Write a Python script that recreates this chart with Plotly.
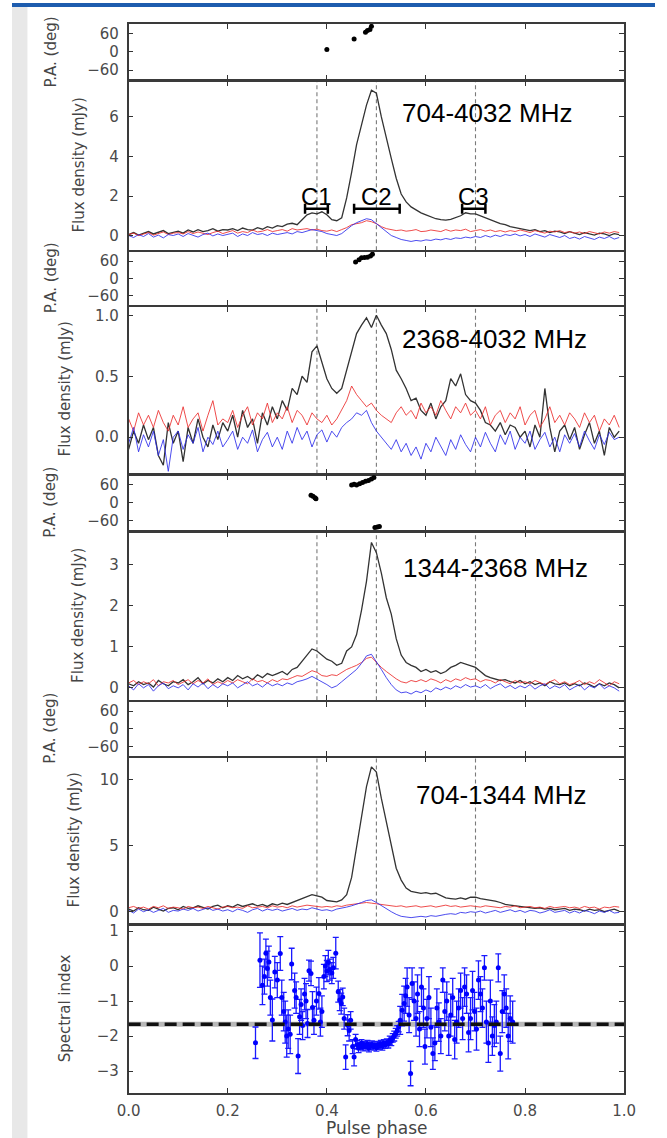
import plotly.graph_objects as go

# ---------------- data ----------------
PHASE = [round(i * 0.01, 2) for i in range(100)]

# 704-4032 MHz
I1 = [0.05, 0.15, 0.02, 0.12, 0.20, 0.08, 0.15, 0.25, 0.10, 0.18,
      0.22, 0.12, 0.28, 0.18, 0.30, 0.20, 0.25, 0.35, 0.22, 0.30,
      0.28, 0.35, 0.25, 0.38, 0.30, 0.27, 0.40, 0.32, 0.45, 0.38,
      0.50, 0.45, 0.58, 0.62, 0.55, 0.80, 1.05, 1.15, 1.10, 1.20,
      1.05, 0.80, 0.75, 0.90, 1.90, 3.20, 4.60, 5.60, 6.60, 7.35,
      7.20, 6.00, 4.90, 3.90, 2.90, 2.10, 1.70, 1.45, 1.30, 1.15,
      1.05, 0.95, 0.85, 0.80, 0.78, 0.82, 0.90, 1.00, 1.15, 1.10,
      1.10, 1.00, 0.90, 0.80, 0.70, 0.60, 0.55, 0.45, 0.40, 0.35,
      0.30, 0.25, 0.30, 0.20, 0.25, 0.15, 0.22, 0.18, 0.10, 0.20,
      0.12, 0.05, 0.15, 0.10, 0.02, 0.12, 0.08, 0.00, 0.10, 0.05]
L1 = [0.05, 0.12, 0.00, 0.08, 0.15, 0.02, 0.10, 0.18, 0.05, 0.12,
      0.15, 0.08, 0.20, 0.10, 0.18, 0.12, 0.05, 0.15, 0.22, 0.10,
      0.18, 0.25, 0.12, 0.20, 0.15, 0.28, 0.18, 0.22, 0.30, 0.20,
      0.25, 0.30, 0.22, 0.35, 0.28, 0.30, 0.35, 0.28, 0.32, 0.25,
      0.22, 0.28, 0.20, 0.30, 0.40, 0.55, 0.60, 0.65, 0.75, 0.70,
      0.60, 0.45, 0.35, 0.30, 0.25, 0.28, 0.22, 0.25, 0.30, 0.20,
      0.22, 0.28, 0.25, 0.20, 0.30, 0.22, 0.28, 0.25, 0.32, 0.20,
      0.25, 0.30, 0.22, 0.28, 0.20, 0.25, 0.18, 0.25, 0.20, 0.28,
      0.22, 0.15, 0.25, 0.20, 0.12, 0.22, 0.18, 0.25, 0.15, 0.20,
      0.12, 0.18, 0.10, 0.20, 0.15, 0.08, 0.18, 0.12, 0.20, 0.15]
V1 = [0.00, -0.10, 0.05, -0.05, 0.10, -0.08, 0.02, -0.12, 0.05, 0.00,
      0.08, -0.05, 0.10, 0.00, -0.08, 0.05, 0.12, -0.02, 0.08, 0.00,
      0.05, 0.12, -0.05, 0.08, 0.00, 0.15, 0.05, 0.10, 0.00, 0.12,
      0.05, 0.10, 0.15, 0.08, 0.20, 0.15, 0.22, 0.30, 0.25, 0.20,
      0.10, 0.05, 0.00, 0.10, 0.30, 0.50, 0.65, 0.75, 0.85, 0.80,
      0.60, 0.40, 0.20, 0.00, -0.10, -0.20, -0.25, -0.30, -0.25, -0.28,
      -0.22, -0.25, -0.18, -0.22, -0.15, -0.20, -0.12, -0.15, -0.08, -0.12,
      -0.05, -0.10, 0.00, -0.08, 0.02, -0.05, 0.05, 0.00, 0.08, -0.02,
      0.05, -0.05, 0.08, 0.00, -0.08, 0.05, -0.02, -0.10, 0.00, -0.15,
      -0.08, -0.18, -0.05, -0.12, -0.20, -0.08, -0.15, -0.05, -0.18, -0.10]

# 2368-4032 MHz
I2 = [-0.10, 0.05, -0.05, 0.10, -0.02, 0.08, -0.15, -0.23, 0.12, -0.05,
      0.05, -0.20, 0.08, -0.05, 0.15, 0.00, -0.08, 0.10, -0.02, 0.12,
      0.05, 0.18, 0.00, 0.22, 0.08, 0.15, -0.05, 0.20, 0.10, 0.25,
      0.15, 0.30, 0.22, 0.40, 0.35, 0.50, 0.45, 0.70, 0.75, 0.62,
      0.48, 0.40, 0.36, 0.40, 0.55, 0.70, 0.85, 0.92, 0.98, 0.90,
      1.00, 0.92, 0.85, 0.72, 0.55, 0.48, 0.40, 0.30, 0.32, 0.22,
      0.18, 0.28, 0.15, 0.25, 0.30, 0.48, 0.42, 0.52, 0.35, 0.30,
      0.28, 0.22, 0.12, 0.10, 0.05, 0.12, 0.02, 0.10, 0.08, 0.00,
      0.05, -0.08, 0.10, 0.00, 0.40, 0.08, -0.12, 0.05, 0.10, -0.02,
      0.08, -0.10, 0.02, 0.12, -0.05, 0.05, -0.15, 0.08, 0.00, 0.05]
L2 = [0.15, 0.05, 0.20, 0.10, 0.18, 0.08, 0.22, 0.12, 0.05, 0.18,
      0.10, 0.25, 0.08, 0.15, 0.20, 0.05, 0.18, 0.30, 0.10, 0.15,
      0.12, 0.22, 0.08, 0.18, 0.25, 0.10, 0.20, 0.15, 0.28, 0.12,
      0.20, 0.15, 0.25, 0.12, 0.22, 0.18, 0.10, 0.20, 0.15, 0.12,
      0.18, 0.10, 0.15, 0.22, 0.30, 0.42, 0.35, 0.30, 0.25, 0.28,
      0.22, 0.18, 0.15, 0.12, 0.20, 0.25, 0.18, 0.22, 0.15, 0.28,
      0.20, 0.25, 0.18, 0.30, 0.22, 0.15, 0.25, 0.20, 0.28, 0.18,
      0.22, 0.15, 0.25, 0.10, 0.18, 0.22, 0.12, 0.20, 0.15, 0.25,
      0.10, 0.18, 0.22, 0.08, 0.15, 0.25, 0.12, 0.18, 0.10, 0.20,
      0.15, 0.08, 0.20, 0.12, 0.18, 0.05, 0.15, 0.10, 0.18, 0.08]
V2 = [-0.05, 0.08, -0.12, 0.02, -0.08, 0.05, -0.15, -0.02, -0.28, 0.00,
      0.05, -0.10, 0.02, -0.05, 0.08, -0.12, 0.00, -0.06, 0.05, -0.08,
      -0.02, 0.05, -0.10, 0.00, -0.05, 0.06, -0.12, -0.02, 0.04, -0.08,
      0.00, -0.10, 0.05, -0.05, 0.08, -0.02, 0.05, -0.08, 0.02, 0.06,
      -0.04, 0.05, 0.00, 0.08, 0.12, 0.15, 0.20, 0.18, 0.22, 0.12,
      0.05, 0.00, -0.05, -0.10, -0.02, -0.12, -0.05, -0.15, -0.08, -0.18,
      -0.05, -0.12, 0.00, -0.08, -0.15, -0.02, -0.10, 0.02, -0.06, -0.12,
      0.00, -0.08, 0.04, -0.05, -0.12, 0.02, -0.06, 0.05, -0.10, 0.00,
      -0.05, 0.05, -0.10, -0.02, 0.04, -0.08, 0.00, -0.12, 0.02, -0.05,
      0.03, -0.08, 0.05, -0.03, -0.10, 0.02, -0.06, 0.04, -0.02, 0.00]

# 1344-2368 MHz
I3 = [0.10, 0.05, 0.15, 0.08, 0.12, 0.02, 0.18, 0.10, 0.05, 0.15,
      0.12, 0.20, 0.08, 0.15, 0.25, 0.10, 0.18, 0.12, 0.22, 0.15,
      0.25, 0.18, 0.30, 0.22, 0.28, 0.20, 0.32, 0.25, 0.35, 0.30,
      0.35, 0.40, 0.32, 0.45, 0.50, 0.65, 0.80, 0.95, 0.90, 0.80,
      0.70, 0.65, 0.55, 0.60, 0.90, 1.00, 1.30, 1.90, 2.60, 3.55,
      3.30, 2.80, 2.20, 1.80, 1.20, 0.80, 0.62, 0.55, 0.50, 0.40,
      0.45, 0.38, 0.42, 0.35, 0.40, 0.50, 0.55, 0.62, 0.58, 0.55,
      0.50, 0.40, 0.30, 0.25, 0.22, 0.18, 0.20, 0.15, 0.12, 0.18,
      0.10, 0.15, 0.08, 0.12, 0.05, 0.15, 0.10, 0.08, 0.12, 0.05,
      0.10, 0.05, 0.12, 0.08, 0.02, 0.10, 0.05, 0.12, 0.08, 0.00]
L3 = [0.12, 0.18, 0.08, 0.15, 0.10, 0.20, 0.05, 0.15, 0.12, 0.18,
      0.08, 0.15, 0.20, 0.10, 0.18, 0.12, 0.22, 0.08, 0.15, 0.10,
      0.18, 0.12, 0.20, 0.15, 0.10, 0.22, 0.15, 0.18, 0.12, 0.20,
      0.15, 0.22, 0.20, 0.25, 0.30, 0.28, 0.35, 0.42, 0.38, 0.30,
      0.28, 0.32, 0.30, 0.38, 0.45, 0.50, 0.55, 0.62, 0.72, 0.75,
      0.62, 0.50, 0.40, 0.30, 0.22, 0.15, 0.12, 0.18, 0.15, 0.20,
      0.15, 0.22, 0.18, 0.12, 0.20, 0.15, 0.22, 0.18, 0.25, 0.20,
      0.22, 0.15, 0.20, 0.18, 0.12, 0.20, 0.15, 0.10, 0.18, 0.12,
      0.15, 0.10, 0.18, 0.12, 0.08, 0.15, 0.20, 0.10, 0.15, 0.08,
      0.12, 0.18, 0.08, 0.15, 0.10, 0.20, 0.12, 0.05, 0.15, 0.10]
V3 = [0.05, -0.05, 0.10, 0.00, 0.08, -0.08, 0.05, 0.12, -0.02, 0.05,
      0.00, 0.08, -0.05, 0.10, 0.02, 0.12, -0.02, 0.08, 0.00, 0.10,
      0.05, 0.12, 0.00, 0.08, 0.15, 0.05, 0.10, 0.02, 0.12, 0.05,
      0.10, 0.05, 0.12, 0.08, 0.15, 0.18, 0.22, 0.28, 0.22, 0.15,
      0.08, 0.00, 0.05, 0.15, 0.25, 0.35, 0.45, 0.60, 0.78, 0.82,
      0.65, 0.45, 0.25, 0.08, -0.05, -0.12, -0.10, -0.15, -0.08, -0.12,
      -0.05, -0.10, 0.00, -0.05, 0.02, -0.03, 0.05, 0.00, 0.08, 0.02,
      0.05, 0.00, 0.08, -0.02, 0.05, 0.10, 0.00, 0.06, -0.02, 0.05,
      0.00, 0.08, -0.03, 0.05, 0.10, -0.02, 0.05, 0.00, 0.08, -0.05,
      0.02, 0.08, -0.05, 0.05, 0.00, 0.10, -0.02, 0.05, 0.00, -0.08]

# 704-1344 MHz
I4 = [0.20, 0.05, 0.30, 0.15, 0.10, 0.35, 0.20, 0.05, 0.25, 0.30,
      0.15, 0.40, 0.25, 0.30, 0.45, 0.35, 0.20, 0.40, 0.50, 0.30,
      0.45, 0.35, 0.55, 0.40, 0.50, 0.60, 0.45, 0.55, 0.40, 0.60,
      0.50, 0.65, 0.55, 0.70, 0.80, 0.95, 1.15, 1.30, 1.20, 1.10,
      0.85, 0.80, 0.75, 0.90, 1.30, 2.60, 4.80, 7.20, 9.50, 11.0,
      10.6, 8.60, 6.80, 5.00, 3.30, 2.40, 1.80, 1.55, 1.45, 1.40,
      1.45, 1.35, 1.40, 1.20, 1.05, 1.00, 0.95, 1.05, 0.95, 1.10,
      1.10, 1.00, 0.95, 0.85, 0.80, 0.70, 0.55, 0.50, 0.45, 0.40,
      0.35, 0.30, 0.25, 0.30, 0.20, 0.25, 0.15, 0.20, 0.25, 0.10,
      0.20, 0.15, 0.05, 0.20, 0.10, 0.15, 0.00, 0.10, 0.20, 0.05]
L4 = [0.30, 0.40, 0.25, 0.35, 0.20, 0.40, 0.30, 0.45, 0.25, 0.35,
      0.30, 0.20, 0.40, 0.30, 0.35, 0.25, 0.40, 0.30, 0.20, 0.35,
      0.40, 0.30, 0.35, 0.25, 0.45, 0.30, 0.35, 0.40, 0.30, 0.45,
      0.35, 0.40, 0.30, 0.45, 0.35, 0.40, 0.50, 0.45, 0.40, 0.35,
      0.40, 0.35, 0.45, 0.40, 0.50, 0.55, 0.60, 0.65, 0.70, 0.65,
      0.60, 0.55, 0.50, 0.45, 0.40, 0.45, 0.35, 0.40, 0.45, 0.35,
      0.40, 0.45, 0.35, 0.40, 0.50, 0.40, 0.45, 0.35, 0.40, 0.45,
      0.40, 0.35, 0.45, 0.40, 0.35, 0.30, 0.40, 0.35, 0.45, 0.30,
      0.35, 0.40, 0.30, 0.35, 0.25, 0.40, 0.30, 0.35, 0.40, 0.30,
      0.35, 0.25, 0.40, 0.30, 0.35, 0.20, 0.35, 0.30, 0.40, 0.35]
V4 = [0.10, -0.10, 0.20, 0.00, 0.15, -0.05, 0.10, 0.25, -0.05, 0.10,
      0.05, 0.20, 0.10, 0.25, 0.05, 0.15, 0.30, 0.10, 0.20, 0.05,
      0.15, 0.00, 0.20, 0.10, -0.05, 0.15, 0.25, 0.05, 0.20, 0.10,
      0.20, 0.05, 0.15, 0.25, 0.10, 0.20, 0.15, 0.30, 0.20, 0.10,
      0.15, 0.05, 0.20, 0.25, 0.35, 0.45, 0.55, 0.70, 0.85, 0.90,
      0.70, 0.45, 0.20, 0.00, -0.20, -0.35, -0.40, -0.45, -0.40, -0.35,
      -0.40, -0.30, -0.35, -0.25, -0.20, -0.15, -0.20, -0.05, -0.10, 0.00,
      -0.05, 0.05, -0.10, 0.00, 0.10, -0.05, 0.05, 0.15, 0.00, 0.10,
      -0.05, 0.10, 0.05, -0.10, 0.00, 0.15, -0.05, 0.05, 0.10, -0.10,
      0.05, -0.10, 0.10, 0.00, -0.15, 0.05, -0.05, 0.10, -0.10, -0.05]

# position angles
PA1_PHASE = [0.400, 0.455, 0.478, 0.482, 0.487, 0.490]
PA1_DEG = [8, 42, 65, 70, 74, 84]
PA2_PHASE = [0.458, 0.465, 0.470, 0.476, 0.482, 0.488, 0.492]
PA2_DEG = [57, 65, 72, 73, 74, 78, 84]
PA3_PHASE = [0.368, 0.372, 0.376, 0.378, 0.450, 0.455, 0.460, 0.466, 0.472,
             0.478, 0.484, 0.490, 0.495, 0.497, 0.502, 0.506]
PA3_DEG = [26, 22, 17, 14, 60, 62, 60, 64, 68, 72, 75, 80, 85, -82, -80, -78]
PA4_PHASE = []
PA4_DEG = []

# spectral index
SI_PHASE = [0.256, 0.265, 0.270, 0.274, 0.277, 0.280, 0.283, 0.286, 0.290, 0.295, 0.300,
            0.306, 0.309, 0.313, 0.316, 0.319, 0.322, 0.326, 0.329, 0.335, 0.338, 0.342,
            0.345, 0.348, 0.351, 0.355, 0.358, 0.361, 0.364, 0.368, 0.371, 0.374, 0.379, 0.384,
            0.387, 0.390, 0.394, 0.397, 0.400, 0.403, 0.406, 0.410, 0.413, 0.418, 0.423, 0.426, 0.429, 0.432,
            0.435, 0.438, 0.442, 0.445, 0.448, 0.452, 0.455,
            0.458, 0.461, 0.464, 0.467, 0.470, 0.473, 0.476, 0.479, 0.482, 0.485,
            0.488, 0.491, 0.494, 0.497, 0.500, 0.503, 0.506, 0.509, 0.512, 0.515,
            0.518, 0.521, 0.524, 0.527, 0.530, 0.533, 0.536, 0.539, 0.542, 0.545,
            0.548, 0.552, 0.556, 0.559, 0.562, 0.566, 0.569, 0.572, 0.576, 0.580, 0.583, 0.587,
            0.591, 0.595, 0.598, 0.602, 0.606, 0.610, 0.614, 0.618, 0.622, 0.626, 0.630, 0.634, 0.638,
            0.642, 0.646, 0.650, 0.654, 0.658, 0.662, 0.666, 0.670, 0.674, 0.678, 0.682, 0.686,
            0.690, 0.694, 0.698, 0.702, 0.706, 0.710, 0.714, 0.718, 0.722, 0.726, 0.730, 0.734,
            0.738, 0.742, 0.746, 0.750, 0.754, 0.758, 0.762, 0.766, 0.770, 0.775]
SI_VALUE = [-2.19, 0.17, -0.55, -0.30, 0.37, -0.07, 0.12, -0.90, -1.54, -0.17, -0.40,
            0.36, -0.90, -1.30, -1.60, -2.00, -1.80, -1.95, 0.06, -0.70, -0.90, -2.57,
            -1.45, -1.10, -1.70, -0.80, -1.00, -1.64, -0.13, -0.21, -1.18, -1.55, -1.00, -0.78,
            -1.60, -1.30, -0.30, 0.00, -0.14, 0.10, -0.10, -0.20, -0.05, 0.37, -0.73, -0.97, -1.07, -0.88,
            -1.50, -2.60, -1.69, -1.84, -1.55, -2.30, -2.60,
            -2.10, -2.25, -2.35, -2.28, -2.20, -2.32, -2.25, -2.30, -2.22, -2.35,
            -2.28, -2.24, -2.30, -2.26, -2.33, -2.25, -2.28, -2.22, -2.30, -2.20,
            -2.25, -2.18, -2.22, -2.12, -2.15, -2.05, -2.00, -1.92, -1.85, -1.73,
            -1.55, -1.26, -1.07, -0.85, -0.60, -1.40, -3.07, -0.50, -1.00, -1.50, -0.80, -1.80,
            -0.60, -1.20, -2.30, -1.50, -0.90, -1.75, -2.50, -2.20, -1.20, -1.60, -2.00, -0.40, -1.30,
            -1.00, -2.00, -1.40, -0.90, -2.10, -1.60, -1.20, -0.70, -1.50, -0.60, -0.80, -1.90,
            -1.50, -0.70, -1.30, -1.80, -0.40, -0.80, -1.20, -0.05, -1.60, -2.20, -1.00, -2.00,
            -1.70, -1.60, -0.05, -2.50, -1.30, -0.80, -1.20, -2.00, -1.50, -1.60]
SI_ERR = [0.45, 0.78, 0.55, 0.50, 0.40, 0.50, 0.45, 0.50, 0.60, 0.45, 0.50,
          0.48, 0.50, 0.55, 0.60, 0.60, 0.55, 0.55, 0.45, 0.50, 0.45, 0.50,
          0.50, 0.45, 0.40, 0.45, 0.50, 0.40, 0.30, 0.35, 0.45, 0.40, 0.40, 0.45,
          0.40, 0.45, 0.35, 0.30, 0.30, 0.35, 0.30, 0.30, 0.30, 0.45, 0.30, 0.30, 0.30, 0.25,
          0.30, 0.35, 0.30, 0.30, 0.25, 0.20, 0.25,
          0.15, 0.12, 0.12, 0.10, 0.10, 0.10, 0.10, 0.10, 0.10, 0.10,
          0.10, 0.10, 0.10, 0.10, 0.10, 0.10, 0.10, 0.10, 0.10, 0.10,
          0.10, 0.10, 0.12, 0.12, 0.12, 0.12, 0.14, 0.14, 0.15, 0.15,
          0.40, 0.45, 0.50, 0.50, 0.55, 0.50, 0.35, 0.45, 0.55, 0.50, 0.55, 0.50,
          0.55, 0.55, 0.50, 0.55, 0.60, 0.55, 0.45, 0.50, 0.55, 0.55, 0.50, 0.35, 0.55,
          0.55, 0.55, 0.60, 0.55, 0.55, 0.60, 0.55, 0.50, 0.60, 0.55, 0.55, 0.55,
          0.60, 0.55, 0.55, 0.60, 0.55, 0.50, 0.55, 0.35, 0.60, 0.55, 0.60, 0.55,
          0.60, 0.60, 0.40, 0.50, 0.60, 0.55, 0.55, 0.65, 0.65, 0.60]
SI_MEAN = -1.66
SI_MEAN_ERR = 0.07

DASHED_PHASES = [0.38, 0.50, 0.70]
COMP_LABELS = ["C1", "C2", "C3"]
COMP_START = [0.356, 0.455, 0.673]
COMP_END = [0.402, 0.547, 0.720]
COMP_LEVEL = 1.35
BAND_LABELS = ["704-4032 MHz", "2368-4032 MHz", "1344-2368 MHz", "704-1344 MHz"]

X_TICKS = [0.0, 0.2, 0.4, 0.6, 0.8, 1.0]
PA_TICKS = [-60, 0, 60]

# ---------------- layout geometry ----------------
W, H = 667, 1138
XL, XR = 121, 635
LW = 1.6
PANEL_PX = [(21, 77), (77, 248), (248, 303), (303, 472), (472, 529),
            (529, 699), (699, 755), (755, 923), (923, 1093)]
Y_RANGES = [[-92, 92], [-0.75, 7.8], [-92, 92], [-0.30, 1.07], [-92, 92],
            [-0.3, 3.8], [-92, 92], [-0.9, 11.7], [-3.63, 1.17]]
Y_TICKS = [PA_TICKS, [0, 2, 4, 6], PA_TICKS, [0.0, 0.5, 1.0], PA_TICKS,
           [0, 1, 2, 3], PA_TICKS, [0, 5, 10], [-3, -2, -1, 0, 1]]

BLACK = "#333333"
RED = "rgba(235,45,45,0.85)"
BLUE = "rgba(45,45,235,0.85)"
TICK_FONT = dict(family="DejaVu Sans", size=15, color="#4a4a4a")

fig = go.Figure()

profiles = [(I1, L1, V1), (I2, L2, V2), (I3, L3, V3), (I4, L4, V4)]
pas = [(PA1_PHASE, PA1_DEG), (PA2_PHASE, PA2_DEG), (PA3_PHASE, PA3_DEG), (PA4_PHASE, PA4_DEG)]

for p in range(4):
    pa_ax = 2 * p + 1
    fx_ax = 2 * p + 2
    ph, deg = pas[p]
    fig.add_trace(go.Scatter(x=ph, y=deg, mode="markers",
                             marker=dict(color="black", size=5),
                             xaxis="x%d" % pa_ax, yaxis="y%d" % pa_ax, showlegend=False))
    tot, lin, circ = profiles[p]
    for series, col, wd in [(tot, BLACK, 1.3), (lin, RED, 1.0), (circ, BLUE, 1.0)]:
        fig.add_trace(go.Scatter(x=PHASE, y=series, mode="lines",
                                 line=dict(color=col, width=wd),
                                 xaxis="x%d" % fx_ax, yaxis="y%d" % fx_ax, showlegend=False))

# component brackets on the first profile
fig.add_trace(go.Scatter(
    x=[(s + e) / 2 for s, e in zip(COMP_START, COMP_END)],
    y=[COMP_LEVEL] * len(COMP_START),
    mode="markers", marker=dict(size=1, color="black"),
    error_x=dict(type="data", array=[(e - s) / 2 for s, e in zip(COMP_START, COMP_END)],
                 color="black", thickness=2.5, width=5),
    xaxis="x2", yaxis="y2", showlegend=False))

# spectral index
fig.add_trace(go.Scatter(
    x=SI_PHASE, y=SI_VALUE, mode="markers",
    marker=dict(color="#0000ff", size=5),
    error_y=dict(type="data", array=SI_ERR, color="#1a1aff", thickness=1.3, width=3),
    xaxis="x9", yaxis="y9", showlegend=False))

layout = dict(width=W, height=H, margin=dict(l=0, r=0, t=0, b=0),
              paper_bgcolor="white", plot_bgcolor="white", showlegend=False)

for k in range(1, 10):
    t, b = PANEL_PX[k - 1]
    if k > 1:
        t = t + LW  # make shared frame lines coincide
    ydom = [1 - b / H, 1 - t / H]
    xname = "xaxis" if k == 1 else "xaxis%d" % k
    yname = "yaxis" if k == 1 else "yaxis%d" % k
    layout[xname] = dict(domain=[XL / W, XR / W], range=[0, 1], anchor="y%d" % k,
                         tickvals=X_TICKS, ticktext=["%.1f" % v for v in X_TICKS],
                         showticklabels=(k == 9), ticks="inside", ticklen=5, tickcolor="#333",
                         showline=True, linecolor="#3a3a3a", linewidth=LW, mirror="ticks",
                         showgrid=False, zeroline=False, tickfont=TICK_FONT,
                         ticklabelstandoff=3)
    yt = Y_TICKS[k - 1]
    if k == 4:
        ytxt = ["%.1f" % v for v in yt]
    else:
        ytxt = [("\u2212%g" % abs(v)) if v < 0 else "%g" % v for v in yt]
    layout[yname] = dict(domain=ydom, range=Y_RANGES[k - 1], anchor="x%d" % k,
                         tickvals=yt, ticktext=ytxt, ticks="inside", ticklen=5, tickcolor="#333",
                         showline=True, linecolor="#3a3a3a", linewidth=LW, mirror="ticks",
                         showgrid=False, zeroline=False, tickfont=TICK_FONT,
                         ticklabelstandoff=5)

shapes = []
# page decoration
shapes.append(dict(type="rect", xref="paper", yref="paper", x0=0, x1=16 / W, y0=0, y1=1 - 4 / H,
                   fillcolor="#e8e8e8", line=dict(width=0), layer="below"))
shapes.append(dict(type="rect", xref="paper", yref="paper", x0=0, x1=1, y0=1 - 4 / H, y1=1,
                   fillcolor="#1d5cae", line=dict(width=0)))
# dashed phase markers in flux panels
for k in [2, 4, 6, 8]:
    for ph in DASHED_PHASES:
        shapes.append(dict(type="line", xref="x%d" % k, yref="y%d domain" % k,
                           x0=ph, x1=ph, y0=0, y1=1,
                           line=dict(color="#7a7a7a", width=1.1, dash="4px,3px"), layer="below"))
# mean spectral index
shapes.append(dict(type="rect", xref="x9 domain", yref="y9", x0=0, x1=1,
                   y0=SI_MEAN - SI_MEAN_ERR, y1=SI_MEAN + SI_MEAN_ERR,
                   fillcolor="rgba(0,0,0,0.28)", line=dict(width=0), layer="below"))
shapes.append(dict(type="line", xref="x9 domain", yref="y9", x0=0, x1=1, y0=SI_MEAN, y1=SI_MEAN,
                   line=dict(color="#111111", width=3.5, dash="12px,6px")))
layout["shapes"] = shapes

ann = []
TITLE_FONT = dict(family="DejaVu Sans", size=15, color="#454545")
for k in [1, 3, 5, 7]:
    t, b = PANEL_PX[k - 1]
    ann.append(dict(text="P.A. (deg)", xref="paper", yref="paper", x=40 / W, y=1 - (t + b) / 2 / H,
                    textangle=-90, showarrow=False, font=TITLE_FONT, xanchor="center", yanchor="middle"))
FLUX_TITLE_X = {2: 70, 4: 55, 6: 69, 8: 64}
for k in [2, 4, 6, 8]:
    t, b = PANEL_PX[k - 1]
    ann.append(dict(text="Flux density (mJy)", xref="paper", yref="paper", x=FLUX_TITLE_X[k] / W,
                    y=1 - (t + b) / 2 / H, textangle=-90, showarrow=False, font=TITLE_FONT,
                    xanchor="center", yanchor="middle"))
t, b = PANEL_PX[8]
ann.append(dict(text="Spectral index", xref="paper", yref="paper", x=55 / W, y=1 - (t + b) / 2 / H,
                textangle=-90, showarrow=False, font=TITLE_FONT, xanchor="center", yanchor="middle"))
ann.append(dict(text="Pulse phase", xref="paper", yref="paper", x=(XL + XR) / 2 / W, y=1 - 1128 / H,
                showarrow=False, font=dict(family="DejaVu Sans", size=17, color="#454545"),
                xanchor="center", yanchor="middle"))

BAND_POS = [(402, 110), (402, 337), (404, 566), (417, 794)]
for lab, (px, py) in zip(BAND_LABELS, BAND_POS):
    ann.append(dict(text=lab, xref="paper", yref="paper", x=px / W, y=1 - py / H,
                    showarrow=False, font=dict(family="Liberation Sans", size=26, color="black"),
                    xanchor="left", yanchor="middle"))
for lab, s, e in zip(COMP_LABELS, COMP_START, COMP_END):
    ann.append(dict(text=lab, xref="x2", yref="y2", x=(s + e) / 2, y=COMP_LEVEL,
                    showarrow=False, font=dict(family="Liberation Sans", size=24, color="black"),
                    xanchor="center", yanchor="bottom", yshift=-3))
layout["annotations"] = ann

fig.update_layout(**layout)
fig.write_html("out.html")
